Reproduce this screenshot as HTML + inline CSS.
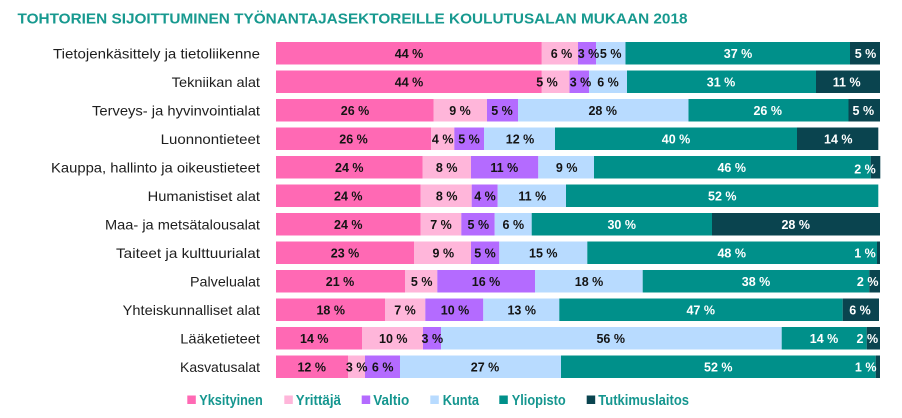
<!DOCTYPE html>
<html><head><meta charset="utf-8"><style>
html,body{margin:0;padding:0;background:#fff;}
svg{display:block;}
.cat{font-family:"Liberation Sans",sans-serif;font-size:14px;fill:#1e1e1e;}
.v{font-family:"Liberation Sans",sans-serif;font-size:12.5px;font-weight:bold;fill:#141414;text-anchor:middle;}
.w{fill:#fff;}
.lg{font-family:"Liberation Sans",sans-serif;font-size:15px;font-weight:bold;fill:#15968f;}
</style></head><body>
<svg width="902" height="418" viewBox="0 0 902 418" xmlns="http://www.w3.org/2000/svg">
<rect width="902" height="418" fill="#fff"/>
<text x="17.5" y="23.3" font-family="Liberation Sans, sans-serif" font-size="15" font-weight="bold" fill="#17998f" textLength="670" lengthAdjust="spacingAndGlyphs">TOHTORIEN SIJOITTUMINEN TYÖNANTAJASEKTOREILLE KOULUTUSALAN MUKAAN 2018</text>

<!-- Row 0 -->
<g transform="translate(0,42)">
<rect x="276" y="0" width="265.8" height="22.5" fill="#FF69B4"/>
<rect x="541.8" y="0" width="36.2" height="22.5" fill="#FFB6DA"/>
<rect x="578" y="0" width="18" height="22.5" fill="#B46BFF"/>
<rect x="596" y="0" width="29.5" height="22.5" fill="#B8DBFF"/>
<rect x="625.5" y="0" width="224.5" height="22.5" fill="#00908A"/>
<rect x="850" y="0" width="30" height="22.5" fill="#0A444F"/>
<text class="cat" x="260" y="16.25" text-anchor="end" textLength="207" lengthAdjust="spacingAndGlyphs">Tietojenkäsittely ja tietoliikenne</text>
<text class="v" x="409" y="15.9">44 %</text>
<text class="v" x="561.5" y="15.9">6 %</text>
<text class="v" x="588.5" y="15.9">3 %</text>
<text class="v" x="610.7" y="15.9">5 %</text>
<text class="v w" x="738" y="15.9">37 %</text>
<text class="v w" x="865.5" y="15.9">5 %</text>
</g>

<!-- Row 1 -->
<g transform="translate(0,70.5)">
<rect x="276" y="0" width="265.8" height="22.5" fill="#FF69B4"/>
<rect x="541.8" y="0" width="27.7" height="22.5" fill="#FFB6DA"/>
<rect x="569.5" y="0" width="19.5" height="22.5" fill="#B46BFF"/>
<rect x="589" y="0" width="38" height="22.5" fill="#B8DBFF"/>
<rect x="627" y="0" width="189" height="22.5" fill="#00908A"/>
<rect x="816" y="0" width="64" height="22.5" fill="#0A444F"/>
<text class="cat" x="260" y="16.25" text-anchor="end" textLength="88.3" lengthAdjust="spacingAndGlyphs">Tekniikan alat</text>
<text class="v" x="409" y="15.9">44 %</text>
<text class="v" x="547" y="15.9">5 %</text>
<text class="v" x="580.5" y="15.9">3 %</text>
<text class="v" x="608" y="15.9">6 %</text>
<text class="v w" x="721" y="15.9">31 %</text>
<text class="v w" x="846.7" y="15.9">11 %</text>
</g>

<!-- Row 2 -->
<g transform="translate(0,99)">
<rect x="276" y="0" width="157.5" height="22.5" fill="#FF69B4"/>
<rect x="433.5" y="0" width="53.5" height="22.5" fill="#FFB6DA"/>
<rect x="487" y="0" width="31" height="22.5" fill="#B46BFF"/>
<rect x="518" y="0" width="170.5" height="22.5" fill="#B8DBFF"/>
<rect x="688.5" y="0" width="160" height="22.5" fill="#00908A"/>
<rect x="848.5" y="0" width="31.5" height="22.5" fill="#0A444F"/>
<text class="cat" x="260" y="16.25" text-anchor="end" textLength="168" lengthAdjust="spacingAndGlyphs">Terveys- ja hyvinvointialat</text>
<text class="v" x="355" y="15.9">26 %</text>
<text class="v" x="460" y="15.9">9 %</text>
<text class="v" x="502" y="15.9">5 %</text>
<text class="v" x="602.7" y="15.9">28 %</text>
<text class="v w" x="767.7" y="15.9">26 %</text>
<text class="v w" x="863.3" y="15.9">5 %</text>
</g>

<!-- Row 3 -->
<g transform="translate(0,127.5)">
<rect x="276" y="0" width="155" height="22.5" fill="#FF69B4"/>
<rect x="431" y="0" width="23.3" height="22.5" fill="#FFB6DA"/>
<rect x="454.3" y="0" width="29.7" height="22.5" fill="#B46BFF"/>
<rect x="484" y="0" width="71" height="22.5" fill="#B8DBFF"/>
<rect x="555" y="0" width="242" height="22.5" fill="#00908A"/>
<rect x="797" y="0" width="81.3" height="22.5" fill="#0A444F"/>
<text class="cat" x="260" y="16.25" text-anchor="end" textLength="99.3" lengthAdjust="spacingAndGlyphs">Luonnontieteet</text>
<text class="v" x="353.5" y="15.9">26 %</text>
<text class="v" x="442.7" y="15.9">4 %</text>
<text class="v" x="469" y="15.9">5 %</text>
<text class="v" x="520" y="15.9">12 %</text>
<text class="v w" x="676" y="15.9">40 %</text>
<text class="v w" x="838.3" y="15.9">14 %</text>
</g>

<!-- Row 4 -->
<g transform="translate(0,156)">
<rect x="276" y="0" width="146.5" height="22.5" fill="#FF69B4"/>
<rect x="422.5" y="0" width="48.5" height="22.5" fill="#FFB6DA"/>
<rect x="471" y="0" width="67.3" height="22.5" fill="#B46BFF"/>
<rect x="538.3" y="0" width="55.7" height="22.5" fill="#B8DBFF"/>
<rect x="594" y="0" width="276.7" height="22.5" fill="#00908A"/>
<rect x="870.7" y="0" width="9.6" height="22.5" fill="#0A444F"/>
<text class="cat" x="260" y="16.25" text-anchor="end" textLength="209" lengthAdjust="spacingAndGlyphs">Kauppa, hallinto ja oikeustieteet</text>
<text class="v" x="349.3" y="15.9">24 %</text>
<text class="v" x="446.7" y="15.9">8 %</text>
<text class="v" x="504.3" y="15.9">11 %</text>
<text class="v" x="566.7" y="15.9">9 %</text>
<text class="v w" x="731.7" y="15.9">46 %</text>
<text class="v w" x="865" y="17.6">2 %</text>
</g>

<!-- Row 5 -->
<g transform="translate(0,184.5)">
<rect x="276" y="0" width="144.7" height="22.5" fill="#FF69B4"/>
<rect x="420.7" y="0" width="51" height="22.5" fill="#FFB6DA"/>
<rect x="471.7" y="0" width="26" height="22.5" fill="#B46BFF"/>
<rect x="497.7" y="0" width="68.3" height="22.5" fill="#B8DBFF"/>
<rect x="566" y="0" width="312.3" height="22.5" fill="#00908A"/>
<text class="cat" x="260" y="16.25" text-anchor="end" textLength="112.3" lengthAdjust="spacingAndGlyphs">Humanistiset alat</text>
<text class="v" x="348.3" y="15.9">24 %</text>
<text class="v" x="446.7" y="15.9">8 %</text>
<text class="v" x="485" y="15.9">4 %</text>
<text class="v" x="532.3" y="15.9">11 %</text>
<text class="v w" x="722.3" y="15.9">52 %</text>
</g>

<!-- Row 6 -->
<g transform="translate(0,213)">
<rect x="276" y="0" width="144.7" height="22.5" fill="#FF69B4"/>
<rect x="420.7" y="0" width="40.6" height="22.5" fill="#FFB6DA"/>
<rect x="461.3" y="0" width="33.4" height="22.5" fill="#B46BFF"/>
<rect x="494.7" y="0" width="37" height="22.5" fill="#B8DBFF"/>
<rect x="531.7" y="0" width="180.3" height="22.5" fill="#00908A"/>
<rect x="712" y="0" width="168" height="22.5" fill="#0A444F"/>
<text class="cat" x="260" y="16.25" text-anchor="end" textLength="155" lengthAdjust="spacingAndGlyphs">Maa- ja metsätalousalat</text>
<text class="v" x="348.3" y="15.9">24 %</text>
<text class="v" x="441" y="15.9">7 %</text>
<text class="v" x="478.3" y="15.9">5 %</text>
<text class="v" x="513.3" y="15.9">6 %</text>
<text class="v w" x="621.7" y="15.9">30 %</text>
<text class="v w" x="795.7" y="15.9">28 %</text>
</g>

<!-- Row 7 -->
<g transform="translate(0,241.5)">
<rect x="276" y="0" width="138" height="22.5" fill="#FF69B4"/>
<rect x="414" y="0" width="57" height="22.5" fill="#FFB6DA"/>
<rect x="471" y="0" width="28.3" height="22.5" fill="#B46BFF"/>
<rect x="499.3" y="0" width="88" height="22.5" fill="#B8DBFF"/>
<rect x="587.3" y="0" width="289.7" height="22.5" fill="#00908A"/>
<rect x="877" y="0" width="3" height="22.5" fill="#0A444F"/>
<text class="cat" x="260" y="16.25" text-anchor="end" textLength="144" lengthAdjust="spacingAndGlyphs">Taiteet ja kulttuurialat</text>
<text class="v" x="345" y="15.9">23 %</text>
<text class="v" x="443.3" y="15.9">9 %</text>
<text class="v" x="485" y="15.9">5 %</text>
<text class="v" x="543.3" y="15.9">15 %</text>
<text class="v w" x="731.7" y="15.9">48 %</text>
<text class="v w" x="865" y="15.9">1 %</text>
</g>

<!-- Row 8 -->
<g transform="translate(0,270)">
<rect x="276" y="0" width="129" height="22.5" fill="#FF69B4"/>
<rect x="405" y="0" width="32.3" height="22.5" fill="#FFB6DA"/>
<rect x="437.3" y="0" width="97.7" height="22.5" fill="#B46BFF"/>
<rect x="535" y="0" width="107.7" height="22.5" fill="#B8DBFF"/>
<rect x="642.7" y="0" width="226.6" height="22.5" fill="#00908A"/>
<rect x="869.3" y="0" width="10.7" height="22.5" fill="#0A444F"/>
<text class="cat" x="260" y="16.25" text-anchor="end" textLength="70" lengthAdjust="spacingAndGlyphs">Palvelualat</text>
<text class="v" x="340" y="15.9">21 %</text>
<text class="v" x="421.7" y="15.9">5 %</text>
<text class="v" x="486" y="15.9">16 %</text>
<text class="v" x="589" y="15.9">18 %</text>
<text class="v w" x="756" y="15.9">38 %</text>
<text class="v w" x="867.7" y="15.9">2 %</text>
</g>

<!-- Row 9 -->
<g transform="translate(0,298.5)">
<rect x="276" y="0" width="109" height="22.5" fill="#FF69B4"/>
<rect x="385" y="0" width="40.3" height="22.5" fill="#FFB6DA"/>
<rect x="425.3" y="0" width="58" height="22.5" fill="#B46BFF"/>
<rect x="483.3" y="0" width="76" height="22.5" fill="#B8DBFF"/>
<rect x="559.3" y="0" width="283.4" height="22.5" fill="#00908A"/>
<rect x="842.7" y="0" width="36.3" height="22.5" fill="#0A444F"/>
<text class="cat" x="260" y="16.25" text-anchor="end" textLength="137.3" lengthAdjust="spacingAndGlyphs">Yhteiskunnalliset alat</text>
<text class="v" x="330.7" y="15.9">18 %</text>
<text class="v" x="405" y="15.9">7 %</text>
<text class="v" x="455" y="15.9">10 %</text>
<text class="v" x="521.7" y="15.9">13 %</text>
<text class="v w" x="700.7" y="15.9">47 %</text>
<text class="v w" x="860" y="15.9">6 %</text>
</g>

<!-- Row 10 -->
<g transform="translate(0,327)">
<rect x="276" y="0" width="86" height="22.5" fill="#FF69B4"/>
<rect x="362" y="0" width="61" height="22.5" fill="#FFB6DA"/>
<rect x="423" y="0" width="18" height="22.5" fill="#B46BFF"/>
<rect x="441" y="0" width="340.7" height="22.5" fill="#B8DBFF"/>
<rect x="781.7" y="0" width="85" height="22.5" fill="#00908A"/>
<rect x="866.7" y="0" width="13.3" height="22.5" fill="#0A444F"/>
<text class="cat" x="260" y="16.25" text-anchor="end" textLength="79.7" lengthAdjust="spacingAndGlyphs">Lääketieteet</text>
<text class="v" x="314.3" y="15.9">14 %</text>
<text class="v" x="393.3" y="15.9">10 %</text>
<text class="v" x="432.3" y="15.9">3 %</text>
<text class="v" x="610.7" y="15.9">56 %</text>
<text class="v w" x="824" y="15.9">14 %</text>
<text class="v w" x="867.3" y="15.9">2 %</text>
</g>

<!-- Row 11 -->
<g transform="translate(0,355.5)">
<rect x="276" y="0" width="72" height="22.5" fill="#FF69B4"/>
<rect x="348" y="0" width="17" height="22.5" fill="#FFB6DA"/>
<rect x="365" y="0" width="35" height="22.5" fill="#B46BFF"/>
<rect x="400" y="0" width="161" height="22.5" fill="#B8DBFF"/>
<rect x="561" y="0" width="314.7" height="22.5" fill="#00908A"/>
<rect x="875.7" y="0" width="4.3" height="22.5" fill="#0A444F"/>
<text class="cat" x="260" y="16.25" text-anchor="end" textLength="80" lengthAdjust="spacingAndGlyphs">Kasvatusalat</text>
<text class="v" x="311.7" y="15.9">12 %</text>
<text class="v" x="356.7" y="15.9">3 %</text>
<text class="v" x="382.7" y="15.9">6 %</text>
<text class="v" x="485" y="15.9">27 %</text>
<text class="v w" x="718.3" y="15.9">52 %</text>
<text class="v w" x="865.7" y="15.9">1 %</text>
</g>

<!-- Legend -->
<rect x="187.3" y="395.5" width="8.5" height="8.5" fill="#FF69B4"/>
<text class="lg" x="199.3" y="405" textLength="63.4" lengthAdjust="spacingAndGlyphs">Yksityinen</text>
<rect x="284.3" y="395.5" width="8.5" height="8.5" fill="#FFB6DA"/>
<text class="lg" x="295.7" y="405" textLength="45.3" lengthAdjust="spacingAndGlyphs">Yrittäjä</text>
<rect x="361.7" y="395.5" width="8.5" height="8.5" fill="#B46BFF"/>
<text class="lg" x="373.3" y="405" textLength="36" lengthAdjust="spacingAndGlyphs">Valtio</text>
<rect x="430.3" y="395.5" width="8.5" height="8.5" fill="#B8DBFF"/>
<text class="lg" x="442.7" y="405" textLength="36.3" lengthAdjust="spacingAndGlyphs">Kunta</text>
<rect x="499.3" y="395.5" width="8.5" height="8.5" fill="#00908A"/>
<text class="lg" x="511.7" y="405" textLength="54" lengthAdjust="spacingAndGlyphs">Yliopisto</text>
<rect x="586.7" y="395.5" width="8.5" height="8.5" fill="#0A444F"/>
<text class="lg" x="598.3" y="405" textLength="90.7" lengthAdjust="spacingAndGlyphs">Tutkimuslaitos</text>
</svg>
</body></html>
